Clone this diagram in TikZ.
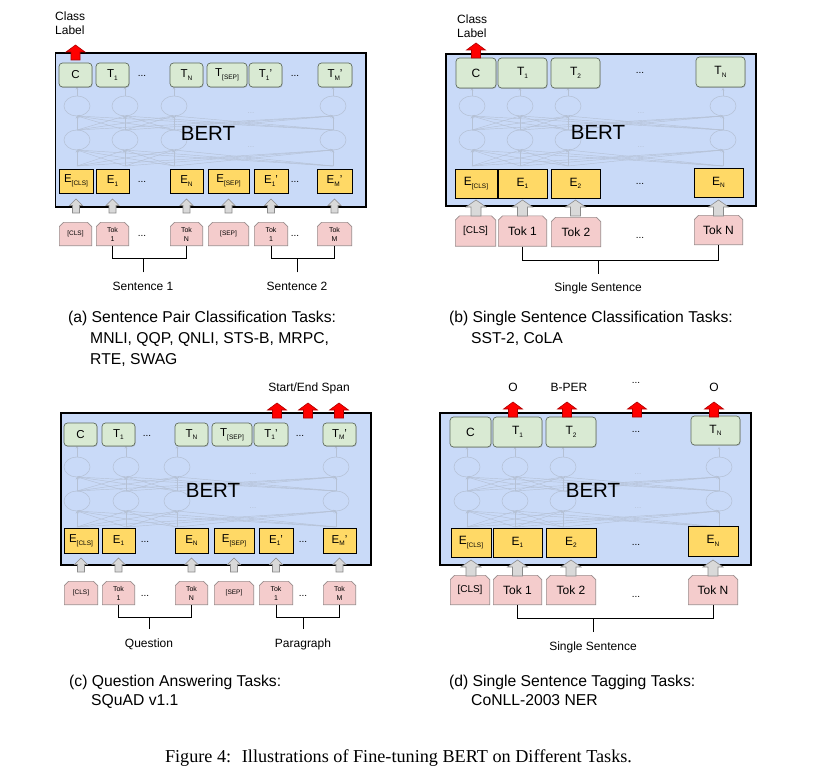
\documentclass[tikz,border=0pt]{standalone}
\usepackage{fontspec}
\setmainfont{Liberation Sans}
\newfontfamily\serifcap{Liberation Serif}
\usetikzlibrary{arrows.meta,shadows,calc}
\definecolor{bertblue}{HTML}{C9DAF8}
\definecolor{tgreen}{HTML}{D9EAD3}
\definecolor{tline}{HTML}{5F6B5C}
\definecolor{eyellow}{HTML}{FFD966}
\definecolor{tokpink}{HTML}{F4CCCC}
\definecolor{tokline}{HTML}{9A8C8C}
\definecolor{agray}{HTML}{D9D9D9}
\definecolor{aline}{HTML}{8C8C8C}
\definecolor{rline}{HTML}{B00000}
\definecolor{netgray}{HTML}{B5C1D5}
\newcommand{\sbs}[1]{\raisebox{-2.6pt}{\fontsize{6.5}{7}\selectfont #1}}
\newcommand{\bertnet}[7]{%
  \foreach \xa in {#1,#2,#3,#4}{%
    \draw[netline] (\xa,#5-10) -- (\xa,#7);
    \draw[netcirc] (\xa,#5) ellipse [x radius=13pt, y radius=10pt];
    \draw[netcirc] (\xa,#5+34) ellipse [x radius=13pt, y radius=10pt];
    \foreach \xb in {#1,#2,#3,#4}{%
      \draw[netline] (\xa,#5+24) -- (\xb,#5+10);
      \draw[netline] (\xa,#5+60) -- (\xb,#5+44);
    }%
  }%
  \node[netdots] at (#6,#5+7) {...};
  \node[netdots] at (#6,#5+41) {...};
}
\begin{document}
\begin{tikzpicture}[x=1pt,y=-1pt,
  bertbox/.style={draw=black, line width=1.6pt, fill=bertblue, inner sep=0pt, anchor=north west},
  tbox/.style={draw=tline, line width=0.7pt, fill=tgreen, rounded corners=3.5pt, inner sep=0pt,
     drop shadow={shadow xshift=0.6pt, shadow yshift=-0.9pt, opacity=0.35}},
  ebox/.style={draw=black, line width=0.7pt, fill=eyellow, inner sep=0pt},
  tokshape/.style={inner sep=0pt, align=center, path picture={
     \path[fill=tokpink, draw=tokline, line width=0.7pt]
      ([shift={(0.35pt,0.35pt)}]path picture bounding box.south west) --
      ([shift={(0.35pt,-4.5pt)}]path picture bounding box.north west) --
      ([shift={(4.5pt,-0.35pt)}]path picture bounding box.north west) --
      ([shift={(-4.5pt,-0.35pt)}]path picture bounding box.north east) --
      ([shift={(-0.35pt,-4.5pt)}]path picture bounding box.north east) --
      ([shift={(-0.35pt,0.35pt)}]path picture bounding box.south east) -- cycle;}},
  fa/.style={font=\fontsize{11.5}{12}\selectfont},
  fb/.style={font=\fontsize{12}{13}\selectfont},
  tA/.style={tbox, fa, minimum height=24pt},
  eA/.style={ebox, fa, minimum height=24pt},
  kA/.style={tokshape, font=\fontsize{7}{9}\selectfont, minimum height=24pt},
  tB/.style={tbox, fb, minimum height=30pt},
  eB/.style={ebox, fb, minimum height=29pt},
  kB/.style={tokshape, fb, minimum height=31pt},
  ellip/.style={font=\fontsize{10}{10}\selectfont, inner sep=0pt},
  netline/.style={draw=netgray, line width=0.45pt, -{Stealth[length=2.5pt,width=2.5pt]}},
  netcirc/.style={draw=netgray, line width=0.55pt},
  netdots/.style={text=netgray, font=\fontsize{8}{8}\selectfont, inner sep=0pt},
  bracket/.style={draw=black, line width=0.8pt},
  lab/.style={font=\fontsize{12}{14}\selectfont, inner sep=0pt},
  capt/.style={font=\fontsize{15.7}{18}\selectfont, inner sep=0pt, anchor=base west},
  bert/.style={font=\fontsize{20.5}{22}\selectfont, inner sep=0pt},
  garrowa/.pic={\path[fill=agray, draw=aline, line width=0.6pt] (-3.5,14) -- (-3.5,6.5) -- (-6.5,6.5) -- (0,0) -- (6.5,6.5) -- (3.5,6.5) -- (3.5,14) -- cycle;},
  garrowb/.pic={\path[fill=agray, draw=aline, line width=0.6pt] (-5,16) -- (-5,7) -- (-10,7) -- (0,0) -- (10,7) -- (5,7) -- (5,16) -- cycle;},
  rarrow/.pic={\path[fill=red, draw=rline, line width=0.6pt] (-4.5,15) -- (-4.5,7) -- (-9.5,7) -- (0,0) -- (9.5,7) -- (4.5,7) -- (4.5,15) -- cycle;}
]
\useasboundingbox (0,0) rectangle (832,778);
\fill[white] (0,0) rectangle (832,778);

% ================= Panel (a)
\node[bertbox, minimum width=310.5pt, minimum height=153.5pt] (aB) at (54.5,52.5) {};
\bertnet{77}{125}{174}{333}{106}{251}{87}
\node[bert] (aBERT) at (208,133) {BERT};
\node[tA, minimum width=33pt] (aTC) at (75.5,75) {C};
\node[tA, minimum width=33pt] (aT1) at (112.5,75) {T\sbs{1}};
\node[ellip] (aTd1) at (142,76) {...};
\node[tA, minimum width=33pt] (aTN) at (186.5,75) {T\sbs{N}};
\node[tA, minimum width=40pt] (aTS) at (227,75) {T\sbs{[SEP]}};
\node[tA, minimum width=33pt] (aT1p) at (265.5,75) {T\sbs{1}'};
\node[ellip] (aTd2) at (295,76) {...};
\node[tA, minimum width=34pt] (aTM) at (335,75) {T\sbs{M}'};
\node[eA, minimum width=34pt] (aE0) at (76,181) {E\sbs{[CLS]}};
\node[eA, minimum width=33pt] (aE1) at (112.5,181) {E\sbs{1}};
\node[ellip] (aEd1) at (142,182) {...};
\node[eA, minimum width=33pt] (aEN) at (186.5,181) {E\sbs{N}};
\node[eA, minimum width=41pt] (aES) at (228.5,181) {E\sbs{[SEP]}};
\node[eA, minimum width=34pt] (aE1p) at (271,181) {E\sbs{1}'};
\node[ellip] (aEd2) at (295,182) {...};
\node[eA, minimum width=35pt] (aEM) at (334.5,181) {E\sbs{M}'};
\node[kA, minimum width=33pt, font=\fontsize{6.5}{8}\selectfont] (aK0) at (75.5,234) {[CLS]};
\node[kA, minimum width=33pt] (aK1) at (112.5,234) {Tok\\1};
\node[ellip] (aKd1) at (142,236) {...};
\node[kA, minimum width=33pt] (aKN) at (186.5,234) {Tok\\N};
\node[kA, minimum width=41pt, font=\fontsize{6.5}{8}\selectfont] (aKS) at (228.5,234) {[SEP]};
\node[kA, minimum width=34pt] (aK1p) at (271,234) {Tok\\1};
\node[ellip] (aKd2) at (295,236) {...};
\node[kA, minimum width=35pt] (aKM) at (334.5,234) {Tok\\M};
\coordinate (aGa) at (0,199);
\foreach \n in {aE0,aE1,aEN,aES,aE1p,aEM} \pic at (\n |- aGa) {garrowa};
\coordinate (aRa) at (0,45);
\pic at (aTC |- aRa) {rarrow};
\node[lab, anchor=base west] (aCl1) at (55,21) {Class};
\node[lab, anchor=base west] (aCl2) at (55,35) {Label};
\draw[bracket] (aK1.south) -- ++(0,12) coordinate (aBr1) -| (aKN.south);
\node[lab, anchor=base] (aS1) at (143,290) {Sentence 1};
\draw[bracket] ([yshift=9pt]aS1.north) -- (aS1.north |- aBr1);
\draw[bracket] (aK1p.south) -- ++(0,12) coordinate (aBr2) -| (aKM.south);
\node[lab, anchor=base] (aS2) at (297,290) {Sentence 2};
\draw[bracket] ([yshift=9pt]aS2.north) -- (aS2.north |- aBr2);
\node[capt] (aC1) at (68,322) {(a) Sentence Pair Classification Tasks:};
\node[capt] (aC2) at (90,343) {MNLI, QQP, QNLI, STS-B, MRPC,};
\node[capt] (aC3) at (90,364) {RTE, SWAG};

% ================= Panel (b)
\node[bertbox, minimum width=310pt, minimum height=152pt] (bB) at (445,53) {};
\bertnet{472}{520}{568}{723}{106}{641}{88}
\node[bert] (bBERT) at (598,132) {BERT};
\node[tB, minimum width=40pt] (bTC) at (476,73) {C};
\node[tB, minimum width=49pt] (bT1) at (522.5,73) {T\sbs{1}};
\node[tB, minimum width=49pt] (bT2) at (575.5,73) {T\sbs{2}};
\node[ellip] (bTd) at (640,73) {...};
\node[tB, minimum width=49pt] (bTN) at (720.5,72) {T\sbs{N}};
\node[eB, minimum width=42pt] (bE0) at (476,183.5) {E\sbs{[CLS]}};
\node[eB, minimum width=49pt] (bE1) at (522.5,183.5) {E\sbs{1}};
\node[eB, minimum width=49pt] (bE2) at (575.5,183.5) {E\sbs{2}};
\node[ellip] (bEd) at (640,184) {...};
\node[eB, minimum width=49pt] (bEN) at (718.5,182.5) {E\sbs{N}};
\node[kB, minimum width=41pt, font=\fontsize{10}{11}\selectfont] (bK0) at (475.5,231) {[CLS]};
\node[kB, minimum width=49pt] (bK1) at (522.5,231) {Tok 1};
\node[kB, minimum width=50pt, minimum height=30pt] (bK2) at (576,232) {Tok 2};
\node[ellip] (bKd) at (640,238) {...};
\node[kB, minimum width=49pt, minimum height=30pt] (bKN) at (718.5,230) {Tok N};
\coordinate (bGa) at (0,200);
\foreach \n in {bE0,bE1,bE2,bEN} \pic at (\n |- bGa) {garrowb};
\coordinate (bRa) at (0,43);
\pic at (bTC |- bRa) {rarrow};
\node[lab, anchor=base west] (bCl1) at (457,24) {Class};
\node[lab, anchor=base west] (bCl2) at (457,38) {Label};
\draw[bracket] (bK1.south) -- ++(0,13.5) coordinate (bBr) -| (bKN.south);
\node[lab, anchor=base] (bS) at (598,291.5) {Single Sentence};
\draw[bracket] ([yshift=9pt]bS.north) -- (bS.north |- bBr);
\node[capt] (bC1) at (449,322) {(b) Single Sentence Classification Tasks:};
\node[capt] (bC2) at (471,343) {SST-2, CoLA};

% ================= Panel (c)
\node[bertbox, minimum width=310pt, minimum height=152pt] (cB) at (60,412) {};
\bertnet{77}{126}{177}{336}{467}{253}{446}
\node[bert] (cBERT) at (213,490) {BERT};
\node[tA, minimum width=33pt, minimum height=23pt] (cTC) at (80.5,434.5) {C};
\node[tA, minimum width=33pt, minimum height=23pt] (cT1) at (118.5,434.5) {T\sbs{1}};
\node[ellip] (cTd1) at (147,435.5) {...};
\node[tA, minimum width=33pt, minimum height=23pt] (cTN) at (191.5,434.5) {T\sbs{N}};
\node[tA, minimum width=40pt, minimum height=23pt] (cTS) at (232,434.5) {T\sbs{[SEP]}};
\node[tA, minimum width=34pt, minimum height=23pt] (cT1p) at (271,434.5) {T\sbs{1}'};
\node[ellip] (cTd2) at (300,435.5) {...};
\node[tA, minimum width=33pt, minimum height=23pt] (cTM) at (339.5,434.5) {T\sbs{M}'};
\node[eA, minimum width=34pt, minimum height=25pt] (cE0) at (81,540.5) {E\sbs{[CLS]}};
\node[eA, minimum width=33pt, minimum height=25pt] (cE1) at (118.5,540.5) {E\sbs{1}};
\node[ellip] (cEd1) at (145,541.5) {...};
\node[eA, minimum width=33pt, minimum height=25pt] (cEN) at (191.5,540.5) {E\sbs{N}};
\node[eA, minimum width=40pt, minimum height=25pt] (cES) at (234,540.5) {E\sbs{[SEP]}};
\node[eA, minimum width=34pt, minimum height=25pt] (cE1p) at (276,540.5) {E\sbs{1}'};
\node[ellip] (cEd2) at (303,541.5) {...};
\node[eA, minimum width=33pt, minimum height=25pt] (cEM) at (339.5,540.5) {E\sbs{M}'};
\node[kA, minimum width=34pt, font=\fontsize{6.5}{8}\selectfont] (cK0) at (81,593) {[CLS]};
\node[kA, minimum width=33pt] (cK1) at (118.5,593) {Tok\\1};
\node[ellip] (cKd1) at (145,596) {...};
\node[kA, minimum width=33pt] (cKN) at (191.5,593) {Tok\\N};
\node[kA, minimum width=40pt, font=\fontsize{6.5}{8}\selectfont] (cKS) at (234,593) {[SEP]};
\node[kA, minimum width=34pt] (cK1p) at (276,593) {Tok\\1};
\node[ellip] (cKd2) at (303,596) {...};
\node[kA, minimum width=33pt] (cKM) at (339.5,593) {Tok\\M};
\coordinate (cGa) at (0,558);
\foreach \n in {cE0,cE1,cEN,cES,cE1p,cEM} \pic at (\n |- cGa) {garrowa};
\coordinate (cR1) at (277,403);
\coordinate (cR2) at (308,403);
\coordinate (cR3) at (339,403);
\foreach \n in {cR1,cR2,cR3} \pic at (\n) {rarrow};
\node[lab, anchor=base] (cSpan) at (309,391) {Start/End Span};
\draw[bracket] (cK1.south) -- ++(0,12) coordinate (cBr1) -| (cKN.south);
\node[lab, anchor=base] (cQ) at (149,647) {Question};
\draw[bracket] ([yshift=9pt]cQ.north) -- (cQ.north |- cBr1);
\draw[bracket] (cK1p.south) -- ++(0,12) coordinate (cBr2) -| (cKM.south);
\node[lab, anchor=base] (cP) at (303,647) {Paragraph};
\draw[bracket] ([yshift=9pt]cP.north) -- (cP.north |- cBr2);
\node[capt] (cC1) at (69,686) {(c) Question Answering Tasks:};
\node[capt] (cC2) at (91,705) {SQuAD v1.1};

% ================= Panel (d)
\node[bertbox, minimum width=311pt, minimum height=152pt] (dB) at (439,412) {};
\bertnet{467}{515}{563}{719}{467}{638}{447}
\node[bert] (dBERT) at (593,490) {BERT};
\node[tB, minimum width=41pt] (dTC) at (470.5,432) {C};
\node[tB, minimum width=49pt] (dT1) at (517.5,432) {T\sbs{1}};
\node[tB, minimum width=50pt] (dT2) at (571,432) {T\sbs{2}};
\node[ellip] (dTd) at (636,432) {...};
\node[tB, minimum width=49pt, minimum height=29pt] (dTN) at (715.5,430.5) {T\sbs{N}};
\node[eB, minimum width=40pt] (dE0) at (471,542.5) {E\sbs{[CLS]}};
\node[eB, minimum width=49pt] (dE1) at (517.5,542.5) {E\sbs{1}};
\node[eB, minimum width=50pt] (dE2) at (571,542.5) {E\sbs{2}};
\node[ellip] (dEd) at (636,545) {...};
\node[eB, minimum width=50pt, minimum height=30pt] (dEN) at (713,541) {E\sbs{N}};
\node[kB, minimum width=40pt, minimum height=30pt, font=\fontsize{10}{11}\selectfont] (dK0) at (470,590) {[CLS]};
\node[kB, minimum width=49pt, minimum height=30pt] (dK1) at (517.5,590) {Tok 1};
\node[kB, minimum width=50pt, minimum height=30pt] (dK2) at (571,590) {Tok 2};
\node[ellip] (dKd) at (636,597) {...};
\node[kB, minimum width=50pt, minimum height=30pt] (dKN) at (713,590) {Tok N};
\coordinate (dGa) at (0,560);
\foreach \n in {dE0,dE1,dE2,dEN} \pic at (\n |- dGa) {garrowb};
\coordinate (dR1) at (513,402);
\coordinate (dR2) at (567,402);
\coordinate (dR3) at (637,402);
\coordinate (dR4) at (714,402);
\foreach \n in {dR1,dR2,dR3,dR4} \pic at (\n) {rarrow};
\node[lab, anchor=base] (dO1) at (513,391) {O};
\node[lab, anchor=base] (dBP) at (569,391) {B-PER};
\node[ellip] (dLd) at (636,383) {...};
\node[lab, anchor=base] (dO2) at (714,391) {O};
\draw[bracket] (dK1.south) -- ++(0,13) coordinate (dBr) -| (dKN.south);
\node[lab, anchor=base] (dS) at (593,650) {Single Sentence};
\draw[bracket] ([yshift=9pt]dS.north) -- (dS.north |- dBr);
\node[capt] (dC1) at (449,686) {(d) Single Sentence Tagging Tasks:};
\node[capt] (dC2) at (471,705) {CoNLL-2003 NER};

% ================= Figure caption
\node[font=\serifcap\fontsize{18.2}{20}\selectfont, inner sep=0pt, anchor=base] (fig) at (398.5,762) {Figure 4:~ Illustrations of Fine-tuning BERT on Different Tasks.};
\end{tikzpicture}
\end{document}
